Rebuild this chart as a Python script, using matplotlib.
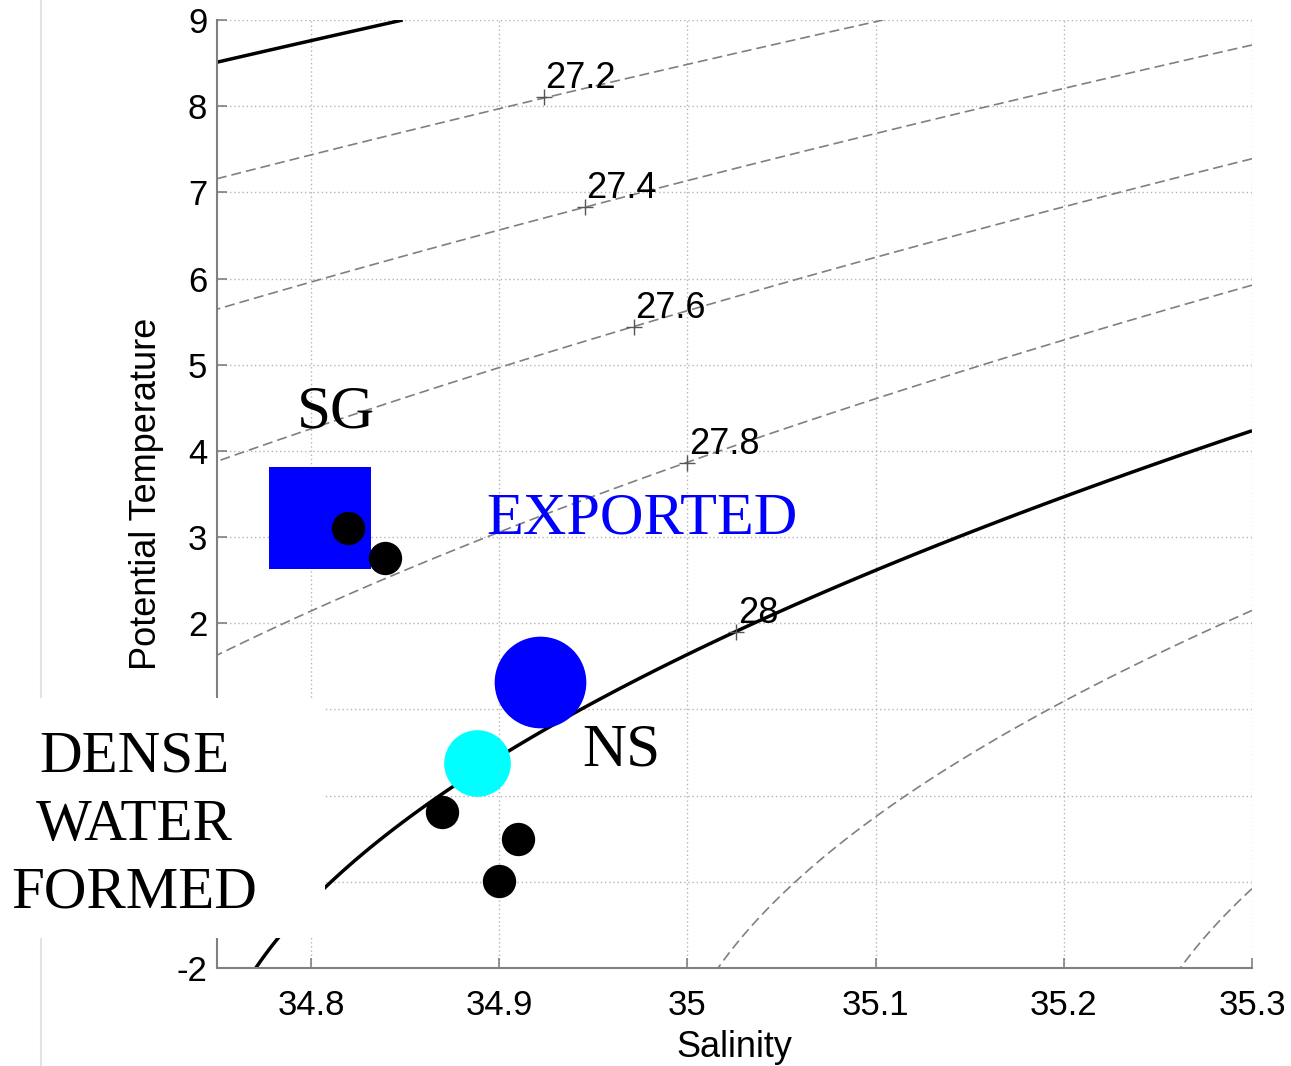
import numpy as np
import matplotlib
matplotlib.use("Agg")
import matplotlib.pyplot as plt
from matplotlib.patches import Rectangle
from matplotlib.lines import Line2D

plt.rcParams['axes.unicode_minus'] = False

# density levels (sigma-theta) drawn as background contours
levels = [27.0, 27.2, 27.4, 27.6, 27.8, 28.0, 28.2, 28.4]
solid_levels = [27.0, 28.0]

# contour label positions (salinity, temperature)
label_text = ['27.2', '27.4', '27.6', '27.8', '28']
label_S = [34.9236, 34.9454, 34.9716, 35.000, 35.026]
label_T = [8.107, 6.830, 5.438, 3.860, 1.900]

# water masses
sg_S, sg_T = [34.8045], [3.227]
ns_S, ns_T = [34.9215], [1.318]
dense_S, dense_T = [34.8879], [0.379]
obs_S = [34.8196, 34.8394, 34.8693, 34.9097, 34.8996]
obs_T = [3.109, 2.754, -0.190, -0.503, -0.991]

xticks = [34.8, 34.9, 35.0, 35.1, 35.2, 35.3]
xticklabels = ['34.8', '34.9', '35', '35.1', '35.2', '35.3']
yticks = list(range(-2, 10))
# 1, 0 and -1 sit under the white box in the original
yticklabels = ['-2', '', '', '', '2', '3', '4', '5', '6', '7', '8', '9']


def sigma0(S, T):
    # UNESCO 1981 density at surface pressure, minus 1000
    rw = (999.842594 + 6.793952e-2 * T - 9.095290e-3 * T**2 + 1.001685e-4 * T**3
          - 1.120083e-6 * T**4 + 6.536332e-9 * T**5)
    A = 0.824493 - 4.0899e-3 * T + 7.6438e-5 * T**2 - 8.2467e-7 * T**3 + 5.3875e-9 * T**4
    B = -5.72466e-3 + 1.0227e-4 * T - 1.6546e-6 * T**2
    return rw + A * S + B * S**1.5 + 4.8314e-4 * S**2 - 1000.0


sans = 'Liberation Sans'
serif = 'Liberation Serif'

fig = plt.figure(figsize=(12.91, 10.66), dpi=100)
ax = fig.add_axes([217 / 1291, 98 / 1066, 1035 / 1291, 948 / 1066])

Sg, Tg = np.meshgrid(np.linspace(34.75, 35.3, 400), np.linspace(-2, 9, 400))
dash = (0, (6, 3))
styles = ['solid' if lv in solid_levels else dash for lv in levels]
cols = ['black' if lv in solid_levels else '#808080' for lv in levels]
lws = [2.5 if lv in solid_levels else 1.2 for lv in levels]
ax.contour(Sg, Tg, sigma0(Sg, Tg), levels=levels, colors=cols,
           linestyles=styles, linewidths=lws, zorder=2)

ax.plot(label_S, label_T, '+', color='#555555', ms=11, mew=1.0, zorder=3)
for s, t, lab in zip(label_S, label_T, label_text):
    ax.annotate(lab, (s, t), xytext=(1, 1), textcoords='offset points',
                ha='left', va='bottom', fontsize=26, family=sans, zorder=3)

ax.plot(sg_S, sg_T, 's', color='#0000ff', ms=73, mew=0, zorder=4)
ax.plot(ns_S, ns_T, 'o', color='#0000ff', ms=66, mew=0, zorder=4)
ax.plot(dense_S, dense_T, 'o', color='#00ffff', ms=48, mew=0, zorder=4)
ax.plot(obs_S, obs_T, 'o', color='black', ms=24, mew=0, zorder=5)

ax.text(34.813, 4.266, 'SG', fontsize=44, family=serif, ha='center', va='baseline', zorder=6)
ax.text(34.976, 3.047, 'EXPORTED', fontsize=43.5, family=serif, color='#0000ff',
        ha='center', va='baseline', zorder=6)
ax.text(34.965, 0.345, 'NS', fontsize=44, family=serif, ha='center', va='baseline', zorder=6)

ax.set_xlim(34.75, 35.3)
ax.set_ylim(-2, 9)
ax.set_xticks(xticks)
ax.set_xticklabels(xticklabels)
ax.set_yticks(yticks)
ax.set_yticklabels(yticklabels)
ax.grid(True, linestyle=(0, (1, 2)), color='#b5b5b5', linewidth=1.0)
ax.set_axisbelow(True)
for side in ['top', 'right']:
    ax.spines[side].set_visible(False)
for side in ['left', 'bottom']:
    ax.spines[side].set_color('#808080')
    ax.spines[side].set_linewidth(1.5)
ax.tick_params(direction='in', length=7, width=1.2, color='#808080', labelsize=25)
ax.tick_params(axis='x', pad=15)
ax.tick_params(axis='y', pad=7)
for lab in ax.get_xticklabels() + ax.get_yticklabels():
    lab.set_family(sans)
ax.set_xlabel('Salinity', fontsize=26, family=sans, labelpad=6)
ax.set_ylabel('Potential Temperature', fontsize=26, family=sans, labelpad=9)

# page edge line and white overlay box with the big label
fig.add_artist(Line2D([41 / 1291, 41 / 1291], [0, 1], color='#e3e3e3', lw=1.5, zorder=1))
fig.add_artist(Rectangle((0, 128 / 1066), 325 / 1291, 240 / 1066, transform=fig.transFigure,
                         facecolor='white', edgecolor='none', zorder=10))
for word, yb in zip(['DENSE', 'WATER', 'FORMED'], [772, 840, 908]):
    fig.text(134 / 1291, 1 - yb / 1066, word, fontsize=42.5, family=serif,
             ha='center', va='baseline', zorder=11)

fig.savefig('out.png', dpi=100)
